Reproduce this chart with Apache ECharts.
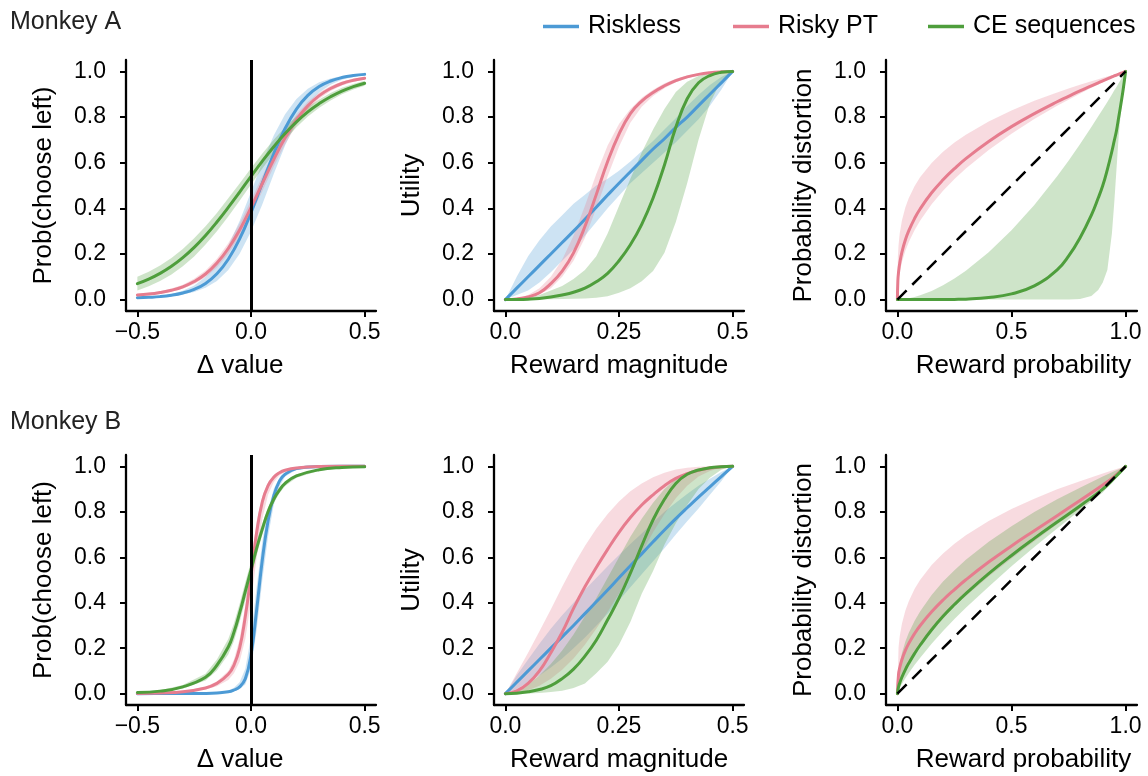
<!DOCTYPE html>
<html>
<head>
<meta charset="utf-8">
<script src="https://cdn.jsdelivr.net/npm/echarts@6/dist/echarts.min.js"></script>
<style>
  html, body { margin: 0; padding: 0; background: #fff; }
  #chart { width: 1148px; height: 776px; }
</style>
</head>
<body>
<div id="chart"></div>
<script>
// ---------- Monkey A: choice curves (Δ value) ----------
const xA1 = [-0.5,-0.45,-0.4,-0.35,-0.3,-0.25,-0.2,-0.15,-0.1,-0.05,0,0.05,0.1,0.15,0.2,0.25,0.3,0.35,0.4,0.45,0.5];
const blueA1   = [0.008,0.010,0.013,0.019,0.029,0.045,0.071,0.113,0.177,0.266,0.381,0.511,0.639,0.750,0.835,0.895,0.934,0.958,0.973,0.982,0.987];
const blueA1Lo = [0.007,0.008,0.011,0.015,0.022,0.033,0.052,0.082,0.130,0.201,0.298,0.418,0.550,0.675,0.779,0.856,0.908,0.942,0.963,0.976,0.984];
const blueA1Hi = [0.009,0.012,0.017,0.025,0.039,0.062,0.099,0.155,0.236,0.344,0.471,0.602,0.719,0.812,0.879,0.924,0.952,0.969,0.980,0.986,0.990];
const pinkA1   = [0.020,0.024,0.031,0.041,0.056,0.079,0.112,0.160,0.224,0.305,0.403,0.509,0.614,0.709,0.788,0.849,0.894,0.925,0.947,0.961,0.970];
const pinkA1Lo = [0.015,0.019,0.025,0.034,0.047,0.068,0.098,0.141,0.200,0.277,0.371,0.475,0.582,0.681,0.765,0.831,0.880,0.914,0.938,0.954,0.964];
const pinkA1Hi = [0.025,0.030,0.037,0.049,0.065,0.091,0.127,0.179,0.247,0.334,0.435,0.542,0.646,0.737,0.811,0.867,0.908,0.936,0.956,0.968,0.976];
const greenA1   = [0.070,0.090,0.115,0.146,0.184,0.229,0.281,0.340,0.404,0.471,0.540,0.607,0.670,0.728,0.779,0.823,0.859,0.889,0.914,0.933,0.948];
const greenA1Lo = [0.040,0.058,0.081,0.110,0.146,0.189,0.241,0.300,0.364,0.433,0.504,0.574,0.640,0.701,0.755,0.802,0.841,0.873,0.900,0.921,0.937];
const greenA1Hi = [0.100,0.122,0.149,0.182,0.222,0.269,0.321,0.380,0.444,0.509,0.576,0.640,0.700,0.755,0.803,0.844,0.877,0.905,0.928,0.945,0.959];

// ---------- Monkey A: utility (reward magnitude) ----------
const xA2 = [0,0.025,0.05,0.075,0.1,0.125,0.15,0.175,0.2,0.225,0.25,0.275,0.3,0.325,0.35,0.375,0.4,0.425,0.45,0.475,0.5];
const blueA2   = [0,0.05,0.1,0.15,0.2,0.25,0.3,0.352,0.405,0.458,0.51,0.56,0.61,0.66,0.705,0.755,0.8,0.85,0.9,0.95,1];
const blueA2Lo = [0,0.02,0.04,0.075,0.12,0.17,0.22,0.28,0.34,0.4,0.455,0.51,0.555,0.6,0.645,0.69,0.74,0.79,0.85,0.92,1];
const blueA2Hi = [0,0.1,0.19,0.26,0.32,0.37,0.42,0.46,0.5,0.53,0.565,0.605,0.65,0.695,0.745,0.795,0.848,0.897,0.94,0.975,1];
const pinkA2   = [0,0.003,0.012,0.03,0.07,0.125,0.205,0.32,0.46,0.605,0.725,0.815,0.87,0.908,0.937,0.96,0.976,0.987,0.994,0.998,1];
const pinkA2Lo = [0,0.002,0.008,0.022,0.05,0.1,0.17,0.27,0.4,0.54,0.67,0.775,0.845,0.892,0.926,0.952,0.97,0.983,0.992,0.997,1];
const pinkA2Hi = [0,0.005,0.02,0.05,0.1,0.175,0.28,0.41,0.55,0.675,0.77,0.835,0.885,0.92,0.948,0.968,0.982,0.991,0.996,0.999,1];
const greenA2   = [0,0.0005,0.002,0.005,0.011,0.02,0.032,0.05,0.078,0.115,0.17,0.24,0.33,0.445,0.59,0.755,0.88,0.95,0.982,0.996,1];
const greenA2Lo = [0,0,0.0005,0.001,0.002,0.003,0.004,0.005,0.008,0.015,0.03,0.05,0.08,0.125,0.205,0.34,0.51,0.7,0.86,0.96,1];
const greenA2Hi = [0,0.002,0.008,0.02,0.04,0.06,0.09,0.13,0.19,0.29,0.41,0.53,0.645,0.745,0.835,0.91,0.955,0.98,0.993,0.998,1];

// ---------- Monkey A: probability weighting ----------
const xA3 = [0,0.002,0.005,0.01,0.02,0.035,0.05,0.075,0.1,0.15,0.2,0.25,0.3,0.4,0.5,0.6,0.7,0.75,0.8,0.85,0.88,0.9,0.92,0.94,0.95,0.96,0.97,0.98,0.99,1];
const pinkA3   = [0,0.083,0.120,0.158,0.209,0.262,0.302,0.355,0.398,0.468,0.525,0.574,0.618,0.693,0.758,0.815,0.867,0.891,0.915,0.937,0.950,0.959,0.967,0.976,0.980,0.984,0.988,0.992,0.996,1];
const pinkA3Lo = [0,0.057,0.087,0.120,0.165,0.214,0.252,0.304,0.347,0.418,0.477,0.528,0.575,0.656,0.727,0.791,0.849,0.876,0.902,0.928,0.943,0.953,0.962,0.972,0.977,0.981,0.986,0.991,0.995,1];
const pinkA3Hi = [0,0.187,0.239,0.288,0.348,0.405,0.445,0.497,0.537,0.599,0.648,0.688,0.722,0.781,0.829,0.871,0.908,0.925,0.942,0.957,0.966,0.972,0.978,0.983,0.986,0.989,0.992,0.995,0.997,1];
const greenA3   = [0,0,0,0,0,0,0,0,0,0.0001,0.0003,0.0008,0.002,0.009,0.025,0.06,0.13,0.19,0.27,0.37,0.445,0.5,0.57,0.65,0.695,0.74,0.8,0.86,0.925,1];
const greenA3Lo = [0,0,0,0,0,0,0,0,0,0,0,0,0,0,0,0,0,0.0005,0.003,0.016,0.042,0.075,0.13,0.29,0.42,0.57,0.72,0.83,0.91,1];
const greenA3Hi = [0,0,0.0001,0.0004,0.0012,0.0031,0.0058,0.0116,0.019,0.038,0.063,0.092,0.126,0.207,0.304,0.415,0.541,0.609,0.681,0.756,0.803,0.834,0.866,0.899,0.916,0.932,0.949,0.966,0.983,1];

// ---------- Monkey B: choice curves (Δ value) ----------
const xB1 = [-0.5,-0.4,-0.3,-0.2,-0.15,-0.1,-0.075,-0.05,-0.025,0,0.025,0.05,0.075,0.1,0.125,0.15,0.2,0.3,0.4,0.5];
const blueB1   = [0,0.0001,0.0002,0.001,0.003,0.008,0.016,0.03,0.065,0.17,0.37,0.59,0.76,0.87,0.935,0.965,0.99,0.999,1,1];
const blueB1Lo = [0,0,0.0001,0.0005,0.0015,0.005,0.01,0.02,0.04,0.11,0.28,0.5,0.69,0.83,0.91,0.955,0.985,0.998,1,1];
const blueB1Hi = [0,0.0002,0.0004,0.002,0.005,0.013,0.026,0.05,0.11,0.25,0.47,0.67,0.81,0.9,0.95,0.975,0.993,0.999,1,1];
const pinkB1   = [0.001,0.003,0.008,0.025,0.045,0.085,0.125,0.2,0.34,0.52,0.71,0.845,0.915,0.952,0.972,0.983,0.993,0.999,1,1];
const pinkB1Lo = [0.0007,0.002,0.006,0.018,0.032,0.06,0.09,0.14,0.24,0.4,0.6,0.77,0.875,0.93,0.96,0.975,0.99,0.998,1,1];
const pinkB1Hi = [0.0015,0.004,0.01,0.03,0.053,0.1,0.15,0.24,0.39,0.58,0.76,0.87,0.93,0.96,0.977,0.986,0.995,0.999,1,1];
const greenB1   = [0.005,0.011,0.03,0.072,0.125,0.205,0.27,0.355,0.45,0.545,0.64,0.725,0.8,0.855,0.895,0.925,0.958,0.985,0.995,0.998];
const greenB1Lo = [0.003,0.008,0.023,0.058,0.102,0.172,0.232,0.315,0.41,0.51,0.61,0.7,0.78,0.838,0.882,0.914,0.95,0.981,0.993,0.997];
const greenB1Hi = [0.007,0.015,0.038,0.088,0.15,0.24,0.31,0.395,0.49,0.58,0.67,0.75,0.82,0.87,0.908,0.935,0.965,0.988,0.996,0.999];

// ---------- Monkey B: utility (reward magnitude) ----------
const xB2 = [0,0.025,0.05,0.075,0.1,0.125,0.15,0.175,0.2,0.225,0.25,0.275,0.3,0.325,0.35,0.375,0.4,0.425,0.45,0.475,0.5];
const blueB2   = [0,0.05,0.1,0.15,0.2,0.25,0.3,0.352,0.404,0.456,0.51,0.563,0.615,0.668,0.72,0.77,0.818,0.865,0.91,0.955,1];
const blueB2Lo = [0,0.02,0.05,0.08,0.115,0.155,0.2,0.247,0.299,0.351,0.41,0.468,0.525,0.583,0.64,0.7,0.758,0.815,0.875,0.935,1];
const blueB2Hi = [0,0.08,0.15,0.22,0.285,0.345,0.4,0.457,0.509,0.561,0.61,0.658,0.705,0.753,0.8,0.84,0.878,0.915,0.945,0.975,1];
const pinkB2   = [0,0.012,0.045,0.1,0.18,0.27,0.375,0.47,0.555,0.635,0.71,0.775,0.83,0.875,0.915,0.947,0.968,0.983,0.993,0.998,1];
const pinkB2Lo = [0,0.004,0.015,0.035,0.065,0.105,0.155,0.215,0.285,0.36,0.44,0.53,0.62,0.71,0.79,0.86,0.915,0.955,0.98,0.995,1];
const pinkB2Hi = [0,0.09,0.18,0.275,0.37,0.47,0.565,0.65,0.725,0.79,0.845,0.89,0.925,0.952,0.972,0.986,0.994,0.998,1,1,1];
const greenB2   = [0,0.002,0.008,0.018,0.035,0.066,0.108,0.165,0.235,0.325,0.42,0.53,0.65,0.765,0.855,0.925,0.965,0.984,0.994,0.998,1];
const greenB2Lo = [0,0,0.001,0.003,0.007,0.013,0.025,0.045,0.09,0.14,0.215,0.315,0.44,0.54,0.655,0.75,0.83,0.9,0.95,0.985,1];
const greenB2Hi = [0,0.012,0.04,0.08,0.13,0.19,0.26,0.34,0.42,0.51,0.6,0.69,0.77,0.84,0.9,0.945,0.972,0.988,0.996,0.999,1];

// ---------- Monkey B: probability weighting ----------
const xB3 = [0,0.005,0.01,0.02,0.035,0.05,0.075,0.1,0.15,0.2,0.25,0.3,0.4,0.5,0.6,0.7,0.8,0.9,0.95,1];
const pinkB3   = [0,0.086,0.113,0.15,0.19,0.221,0.264,0.3,0.36,0.412,0.458,0.501,0.579,0.65,0.717,0.783,0.85,0.918,0.955,1];
const pinkB3Lo = [0,0.027,0.044,0.07,0.102,0.13,0.171,0.207,0.272,0.33,0.383,0.43,0.515,0.595,0.67,0.745,0.815,0.895,0.945,1];
const pinkB3Hi = [0,0.204,0.251,0.309,0.366,0.407,0.46,0.501,0.566,0.617,0.66,0.697,0.76,0.812,0.858,0.899,0.935,0.969,0.985,1];
const greenB3   = [0,0.029,0.046,0.073,0.106,0.134,0.176,0.214,0.281,0.34,0.392,0.44,0.528,0.608,0.683,0.755,0.826,0.9,0.948,1];
const greenB3Lo = [0,0.014,0.025,0.044,0.068,0.091,0.126,0.158,0.219,0.276,0.328,0.378,0.47,0.56,0.645,0.727,0.807,0.885,0.94,1];
const greenB3Hi = [0,0.097,0.132,0.179,0.229,0.268,0.32,0.363,0.434,0.493,0.543,0.589,0.668,0.737,0.799,0.855,0.906,0.955,0.978,1];

// identity reference for probability panels
const diagX = [0, 1];
const diagY = [0, 1];

// ---------- ticks and labels ----------
const yTicks = [0, 0.2, 0.4, 0.6, 0.8, 1];
const yTickLabels = ['0.0', '0.2', '0.4', '0.6', '0.8', '1.0'];
const deltaTicks = [-0.5, 0, 0.5];
const deltaTickLabels = ['\u22120.5', '0.0', '0.5'];
const magTicks = [0, 0.25, 0.5];
const magTickLabels = ['0.0', '0.25', '0.5'];
const probTicks = [0, 0.5, 1];
const probTickLabels = ['0.0', '0.5', '1.0'];

const seriesNames = ['Riskless', 'Risky PT', 'CE sequences'];
const panelTitles = ['Monkey A', 'Monkey B'];

// ---------- styling ----------
const FONT = '"Liberation Sans", Arial, Helvetica, sans-serif';
const COLORS = { 'Riskless': '#4C9AD5', 'Risky PT': '#E67C8E', 'CE sequences': '#4E9E3C' };
const BAND_ALPHA = 0.28;

function rgba(hex, a) {
  const n = parseInt(hex.slice(1), 16);
  return `rgba(${(n >> 16) & 255},${(n >> 8) & 255},${n & 255},${a})`;
}

const gridRects = [
  { left: 126, top: 60,  width: 250, height: 251 },
  { left: 494, top: 60,  width: 250, height: 251 },
  { left: 886, top: 60,  width: 251, height: 251 },
  { left: 126, top: 455, width: 250, height: 250 },
  { left: 494, top: 455, width: 250, height: 250 },
  { left: 886, top: 455, width: 251, height: 250 }
];

const choiceAxis = { min: -0.55, max: 0.55, ticks: deltaTicks, labels: deltaTickLabels, name: '\u0394 value', yName: 'Prob(choose left)', namePad: [0, 22, 0, 0] };
const magAxis = { min: -0.025, max: 0.525, ticks: magTicks, labels: magTickLabels, name: 'Reward magnitude', yName: 'Utility', namePad: [0, 0, 0, 0] };
const probAxis = { min: -0.05, max: 1.05, ticks: probTicks, labels: probTickLabels, name: 'Reward probability', yName: 'Probability distortion', namePad: [0, 0, 0, 24] };

const panels = [
  { axis: choiceAxis, x: xA1, ref: 'vline', curves: [
    ['Riskless', blueA1, blueA1Lo, blueA1Hi], ['Risky PT', pinkA1, pinkA1Lo, pinkA1Hi], ['CE sequences', greenA1, greenA1Lo, greenA1Hi]] },
  { axis: magAxis, x: xA2, ref: null, curves: [
    ['Riskless', blueA2, blueA2Lo, blueA2Hi], ['Risky PT', pinkA2, pinkA2Lo, pinkA2Hi], ['CE sequences', greenA2, greenA2Lo, greenA2Hi]] },
  { axis: probAxis, x: xA3, ref: 'diag', curves: [
    ['Risky PT', pinkA3, pinkA3Lo, pinkA3Hi], ['CE sequences', greenA3, greenA3Lo, greenA3Hi]] },
  { axis: choiceAxis, x: xB1, ref: 'vline', curves: [
    ['Riskless', blueB1, blueB1Lo, blueB1Hi], ['Risky PT', pinkB1, pinkB1Lo, pinkB1Hi], ['CE sequences', greenB1, greenB1Lo, greenB1Hi]] },
  { axis: magAxis, x: xB2, ref: null, curves: [
    ['Riskless', blueB2, blueB2Lo, blueB2Hi], ['Risky PT', pinkB2, pinkB2Lo, pinkB2Hi], ['CE sequences', greenB2, greenB2Lo, greenB2Hi]] },
  { axis: probAxis, x: xB3, ref: 'diag', curves: [
    ['Risky PT', pinkB3, pinkB3Lo, pinkB3Hi], ['CE sequences', greenB3, greenB3Lo, greenB3Hi]] }
];

const axisLineStyle = { color: '#000', width: 2.3 };
const tickFont = { fontFamily: FONT, fontSize: 23, color: '#000' };
const nameFont = { fontFamily: FONT, fontSize: 26, color: '#000' };

// shaded confidence band: one polygon through the upper edge and back along the lower edge
function bandSeries(pi, x, lo, hi, color) {
  return {
    type: 'custom', xAxisIndex: pi, yAxisIndex: pi, silent: true, z: 1,
    data: x.map((v, i) => [v, lo[i], hi[i]]),
    encode: { x: 0, y: [1, 2] },
    renderItem: function (params, api) {
      if (params.dataIndexInside !== 0) return null;
      const n = params.dataInsideLength;
      const upper = [], lower = [];
      for (let i = 0; i < n; i++) {
        const xv = api.value(0, i);
        upper.push(api.coord([xv, api.value(2, i)]));
        lower.push(api.coord([xv, api.value(1, i)]));
      }
      return {
        type: 'polygon',
        shape: { points: upper.concat(lower.reverse()) },
        style: { fill: rgba(color, BAND_ALPHA) }
      };
    }
  };
}

function lineSeries(pi, name, x, y, color) {
  return {
    type: 'line', name: name, xAxisIndex: pi, yAxisIndex: pi, z: 3,
    data: x.map((v, i) => [v, y[i]]),
    showSymbol: false, symbol: 'none', smooth: 0.45,
    lineStyle: { color: color, width: 3, cap: 'round', join: 'round' }, itemStyle: { color: color },
    silent: true
  };
}

const grids = [], xAxes = [], yAxes = [], series = [];
panels.forEach((p, pi) => {
  grids.push(Object.assign({ containLabel: false }, gridRects[pi]));
  const ax = p.axis;
  xAxes.push({
    type: 'value', gridIndex: pi, min: ax.min, max: ax.max,
    axisLine: { onZero: false, lineStyle: axisLineStyle },
    axisTick: { customValues: ax.ticks, length: 6, lineStyle: { color: '#000', width: 2 } },
    axisLabel: { customValues: ax.ticks, margin: 10, formatter: v => ax.labels[ax.ticks.indexOf(v)], ...tickFont },
    splitLine: { show: false },
    name: ax.name, nameLocation: 'middle', nameGap: 42,
    nameTextStyle: { ...nameFont, padding: ax.namePad }
  });
  yAxes.push({
    type: 'value', gridIndex: pi, min: -0.05, max: 1.05,
    axisLine: { onZero: false, lineStyle: axisLineStyle },
    axisTick: { customValues: yTicks, length: 6, lineStyle: { color: '#000', width: 2 } },
    axisLabel: { customValues: yTicks, margin: 20, formatter: v => yTickLabels[yTicks.indexOf(v)], ...tickFont },
    splitLine: { show: false },
    name: ax.yName, nameLocation: 'middle', nameGap: 69,
    nameTextStyle: nameFont
  });
  p.curves.forEach(c => series.push(bandSeries(pi, p.x, c[2], c[3], COLORS[c[0]])));
  p.curves.forEach(c => series.push(lineSeries(pi, c[0], p.x, c[1], COLORS[c[0]])));
  if (p.ref === 'vline') {
    series.push({
      type: 'line', xAxisIndex: pi, yAxisIndex: pi, data: [], z: 5, silent: true,
      markLine: {
        silent: true, symbol: 'none', animation: false,
        label: { show: false },
        lineStyle: { color: '#000', width: 3, type: 'solid' },
        data: [{ xAxis: 0 }]
      }
    });
  } else if (p.ref === 'diag') {
    series.push({
      type: 'line', xAxisIndex: pi, yAxisIndex: pi, z: 5, silent: true,
      data: diagX.map((v, i) => [v, diagY[i]]),
      showSymbol: false, symbol: 'none',
      lineStyle: { color: '#000', width: 2.5, type: [13, 8] }
    });
  }
});

const legendLefts = [538, 728, 923];
const legends = seriesNames.map((n, i) => ({
  data: [n], left: legendLefts[i], top: 9, orient: 'horizontal',
  icon: 'rect', itemWidth: 36, itemHeight: 3.5, selectedMode: false,
  textStyle: { fontFamily: FONT, fontSize: 25, color: '#000', padding: [0, 0, 0, 4] }
}));

const titles = panelTitles.map((t, i) => ({
  text: t, left: 10, top: i === 0 ? 10 : 410, padding: 0,
  textStyle: { fontFamily: FONT, fontSize: 25, fontWeight: 'normal', color: '#222' }
}));

const chart = echarts.init(document.getElementById('chart'), null, { renderer: 'canvas' });
chart.setOption({
  animation: false,
  backgroundColor: '#fff',
  textStyle: { fontFamily: FONT },
  title: titles,
  legend: legends,
  grid: grids,
  xAxis: xAxes,
  yAxis: yAxes,
  series: series
});
</script>
</body>
</html>
